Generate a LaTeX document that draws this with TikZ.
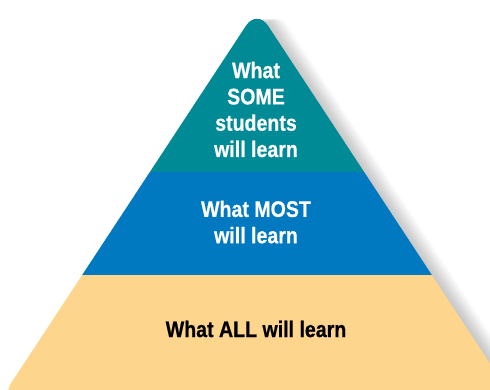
\documentclass[tikz,border=0pt]{standalone}
\usepackage{fontspec}
\newfontfamily\tierfont[FakeStretch=0.87, BoldFeatures={FakeBold=0.6}]{Liberation Sans}
\definecolor{tealtop}{RGB}{0, 138, 150}
\definecolor{bluemid}{RGB}{0, 121, 193}
\definecolor{sandbase}{RGB}{254, 213, 141}
\tikzset{tier text/.style={font=\tierfont\bfseries\fontsize{22.5}{26.3}\selectfont, align=center, inner sep=0pt, anchor=center}}

\begin{document}
\begin{tikzpicture}[x=1pt,y=-1pt]
            \useasboundingbox (0,0) rectangle (490,390);
            \clip (0,0) rectangle (490,390);
            \foreach \s in {1,...,20}
                \fill[black, opacity=0.011, xshift=\s pt, rounded corners=20pt] (0,400) -- (257,9) -- (514,400) -- cycle;
            \begin{scope}
                \clip[rounded corners=20pt]        (0,400) -- (257,9) -- (514,400) -- cycle;
                \fill[tealtop]                     (0,  0) rectangle (514,172);
                \fill[bluemid]                     (0,172) rectangle (514,275);
                \fill[sandbase]                    (0,275) rectangle (514,400);
            \end{scope}
            \node[tier text, white] (some) at (256,109.5) {What\\SOME\\students\\will learn};
            \node[tier text, white] (most) at (256,222)   {What MOST\\will learn};
            \node[tier text, black] (all)  at (256,329)   {What ALL will learn};
\end{tikzpicture}
\end{document}
